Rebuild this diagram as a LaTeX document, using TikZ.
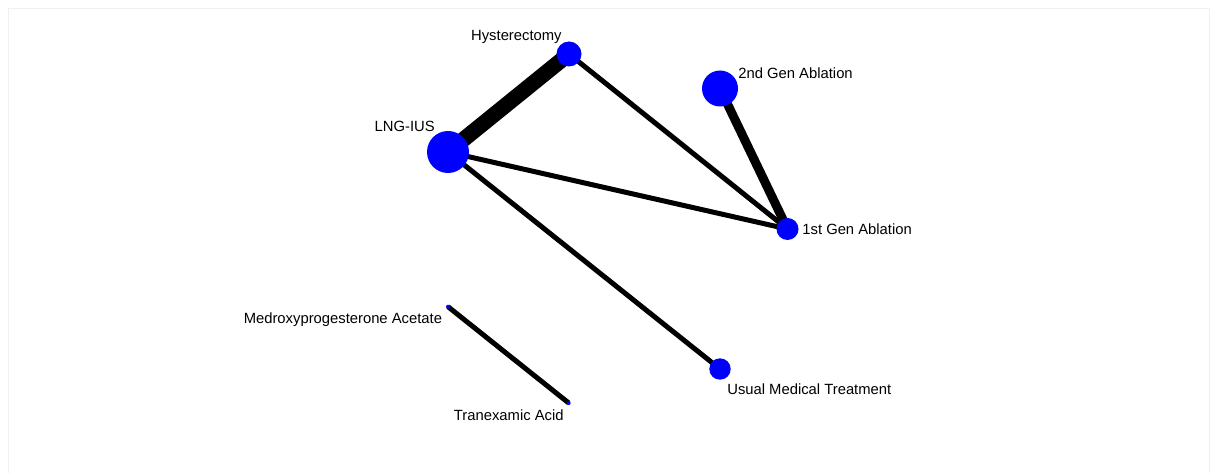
\documentclass[tikz,border=0pt]{standalone}
\usepackage{fontspec}
\setmainfont{Liberation Sans}
\usepackage{tikz}
\usetikzlibrary{positioning, backgrounds}

\begin{document}
\begin{tikzpicture}[x=1pt, y=-1pt,
		treat/.style={circle, fill=blue, draw=none, inner sep=0pt},
		lbl/.style={inner sep=0pt, text height=10.6pt, text depth=3.1pt, font=\fontsize{14.8}{17}\selectfont},
		link/.style={line width=5pt},
		midlink/.style={line width=9pt},
		heavylink/.style={line width=15.5pt}]
		\useasboundingbox (0,0) rectangle (1211,473);
		\draw[black!6, line width=1pt] (8,473) -- (8,9) -- (1209,9) -- (1209,473);
		
		\node[treat, minimum size=25pt] (hyst) at (569,54) {};
		\node[lbl, above left = 1.6pt and -1.8pt of hyst] (hyst-lbl) {Hysterectomy};
		
		\node[treat, minimum size=42pt] (lng) at (448,152) {};
		\node[lbl, above left = 2.3pt and -1.9pt of lng] (lng-lbl) {LNG-IUS};
		
		\node[treat, minimum size=36pt] (abl2) at (720,88.5) {};
		\node[lbl, above right = -6pt and 5.3pt of abl2] (abl2-lbl) {2nd Gen Ablation};
		
		\node[treat, minimum size=22pt] (abl1) at (787.5,229) {};
		\node[lbl, right = 3.5pt of abl1, yshift=-1.5pt] (abl1-lbl) {1st Gen Ablation};
		
		\node[treat, minimum size=21.4pt] (umt) at (720,369) {};
		\node[lbl, below right = 6.5pt and -0.6pt of umt] (umt-lbl) {Usual Medical Treatment};
		
		\node[treat, minimum size=4pt] (mpa) at (448,306.7) {};
		\node[lbl, below left = 4pt and 4.2pt of mpa] (mpa-lbl) {Medroxyprogesterone Acetate};
		
		\node[treat, minimum size=4pt] (txa) at (568.7,403) {};
		\node[lbl, below left = 5pt and 3.3pt of txa] (txa-lbl) {Tranexamic Acid};
		
		\begin{scope}[on background layer]
			\draw (lng.center) edge[heavylink] (hyst.center);
			\draw (abl2.center) edge[midlink] (abl1.center);
			\draw (hyst.center) edge[link] (abl1.center);
			\draw (lng.center) edge[link] (abl1.center);
			\draw (lng.center) edge[link] (umt.center);
			\draw (mpa.center) edge[link] (txa.center);
		\end{scope}
		
	\end{tikzpicture}
\end{document}
